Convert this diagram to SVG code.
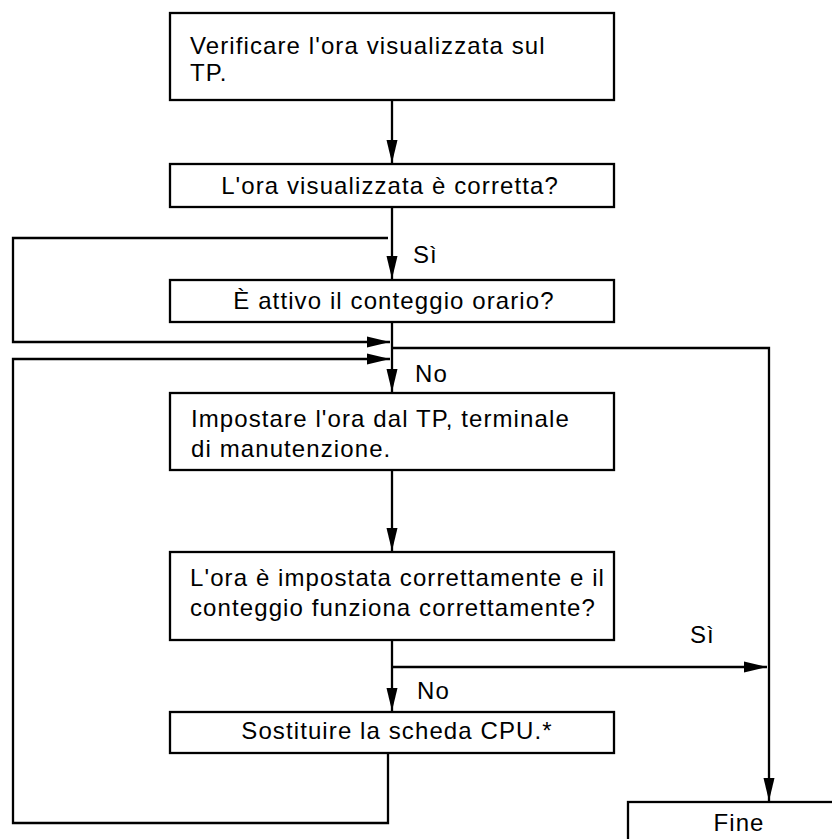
<svg xmlns="http://www.w3.org/2000/svg" width="832" height="839" viewBox="0 0 832 839">
  <style>
    .box { fill: #fff; stroke: #000; stroke-width: 2.3; }
    .lbl { font-family: "Liberation Sans", Arial, sans-serif; font-size: 24px; letter-spacing: 1.1px; fill: #000; }
    .mid { text-anchor: middle; }
    .wire { fill: none; stroke: #000; stroke-width: 2.3; }
    .arr { marker-end: url(#head); }
  </style>
  <defs>
    <marker id="head" markerUnits="userSpaceOnUse" markerWidth="23" markerHeight="12" refX="23" refY="6" orient="auto">
      <path d="M0,0.5 L23,6 L0,11.5 Z" fill="#000"/>
    </marker>
  </defs>

  <!-- connectors -->
  <g id="connectors">
    <path class="wire arr" d="M392,101 V163"/>
    <path class="wire arr" d="M392,207 V279"/>
    <path class="wire arr" d="M388,238 H13 V342 H390"/>
    <path class="wire arr" d="M392,322 V392"/>
    <path class="wire arr" d="M392,348 H769 V801"/>
    <path class="wire arr" d="M392,470 V551"/>
    <path class="wire arr" d="M392,640 V711"/>
    <path class="wire arr" d="M392,667 H767"/>
    <path class="wire arr" d="M388,753 V823 H13 V359 H390"/>
    <text class="lbl" x="413" y="263">Sì</text>
    <text class="lbl" x="415" y="382">No</text>
    <text class="lbl" x="690" y="643">Sì</text>
    <text class="lbl" x="417" y="699">No</text>
  </g>

  <!-- steps -->
  <g id="check-display">
    <rect class="box" x="170" y="13" width="444" height="87"/>
    <text class="lbl" x="190" y="54">Verificare l'ora visualizzata sul</text>
    <text class="lbl" x="190" y="81">TP.</text>
  </g>
  <g id="time-correct">
    <rect class="box" x="170" y="164" width="444" height="43"/>
    <text class="lbl mid" x="390" y="194">L'ora visualizzata è corretta?</text>
  </g>
  <g id="clock-running">
    <rect class="box" x="170" y="280" width="444" height="42"/>
    <text class="lbl mid" x="394" y="309">È attivo il conteggio orario?</text>
  </g>
  <g id="set-time">
    <rect class="box" x="170" y="393" width="444" height="77"/>
    <text class="lbl" x="191" y="427">Impostare l'ora dal TP, terminale</text>
    <text class="lbl" x="191" y="457">di manutenzione.</text>
  </g>
  <g id="time-ok">
    <rect class="box" x="170" y="552" width="444" height="88"/>
    <text class="lbl" x="190" y="586">L'ora è impostata correttamente e il</text>
    <text class="lbl" x="190" y="616">conteggio funziona correttamente?</text>
  </g>
  <g id="replace-cpu">
    <rect class="box" x="170" y="712" width="444" height="41"/>
    <text class="lbl mid" x="397" y="739">Sostituire la scheda CPU.*</text>
  </g>
  <g id="end">
    <rect class="box" x="628" y="802" width="220" height="60"/>
    <text class="lbl mid" x="739" y="831">Fine</text>
  </g>
</svg>
